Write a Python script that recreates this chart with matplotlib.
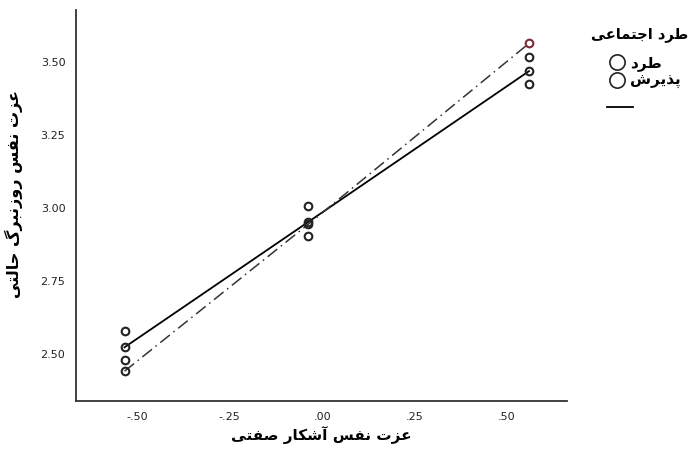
import matplotlib.pyplot as plt
from matplotlib.lines import Line2D
from matplotlib.ticker import FuncFormatter

# Persian labels
x_label = "عزت نفس آشکار صفتی"
y_label = "عزت نفس روزنبرگ حالتی"
legend_title = "طرد اجتماعی"
groups = ["طرد", "پذیرش"]

# x positions of the three points (explicit self-esteem)
x_vals = [-0.535, -0.038, 0.56]

# values on the fitted lines for each group
fit_reject = [2.524, 2.953, 3.470]
fit_accept = [2.442, 2.945, 3.565]
# the other plotted points
extra_reject = [2.579, 3.007, 3.425]
extra_accept = [2.479, 2.905, 3.517]

x_ticks = [-0.50, -0.25, 0.00, 0.25, 0.50]
y_ticks = [2.50, 2.75, 3.00, 3.25, 3.50]

# presentation forms: isolated, final, initial, medial
FORMS = {
    'ا': ('\uFE8D', '\uFE8E'), 'آ': ('\uFE81', '\uFE82'),
    'د': ('\uFEA9', '\uFEAA'), 'ذ': ('\uFEAB', '\uFEAC'),
    'ر': ('\uFEAD', '\uFEAE'), 'ز': ('\uFEAF', '\uFEB0'),
    'و': ('\uFEED', '\uFEEE'),
    'ب': ('\uFE8F', '\uFE90', '\uFE91', '\uFE92'),
    'پ': ('\uFB56', '\uFB57', '\uFB58', '\uFB59'),
    'ت': ('\uFE95', '\uFE96', '\uFE97', '\uFE98'),
    'ج': ('\uFE9D', '\uFE9E', '\uFE9F', '\uFEA0'),
    'ح': ('\uFEA1', '\uFEA2', '\uFEA3', '\uFEA4'),
    'س': ('\uFEB1', '\uFEB2', '\uFEB3', '\uFEB4'),
    'ش': ('\uFEB5', '\uFEB6', '\uFEB7', '\uFEB8'),
    'ص': ('\uFEB9', '\uFEBA', '\uFEBB', '\uFEBC'),
    'ط': ('\uFEC1', '\uFEC2', '\uFEC3', '\uFEC4'),
    'ع': ('\uFEC9', '\uFECA', '\uFECB', '\uFECC'),
    'ف': ('\uFED1', '\uFED2', '\uFED3', '\uFED4'),
    'ک': ('\uFB8E', '\uFB8F', '\uFB90', '\uFB91'),
    'گ': ('\uFB92', '\uFB93', '\uFB94', '\uFB95'),
    'ل': ('\uFEDD', '\uFEDE', '\uFEDF', '\uFEE0'),
    'م': ('\uFEE1', '\uFEE2', '\uFEE3', '\uFEE4'),
    'ن': ('\uFEE5', '\uFEE6', '\uFEE7', '\uFEE8'),
    'ی': ('\uFBFC', '\uFBFD', '\uFBFE', '\uFBFF'),
}


def shape(text):
    # join letters and put them in visual (left-to-right) order
    out = []
    for i, ch in enumerate(text):
        if ch not in FORMS:
            out.append(ch)
            continue
        prev = text[i - 1] if i > 0 else ' '
        nxt = text[i + 1] if i < len(text) - 1 else ' '
        join_prev = prev in FORMS and len(FORMS[prev]) == 4
        join_next = len(FORMS[ch]) == 4 and nxt in FORMS
        f = FORMS[ch]
        if join_prev and join_next:
            out.append(f[3])
        elif join_prev:
            out.append(f[1])
        elif join_next:
            out.append(f[2])
        else:
            out.append(f[0])
    return ''.join(reversed(out))


plt.rcParams['font.family'] = ['DejaVu Sans']

fig = plt.figure(figsize=(6.89, 4.57), dpi=100)
ax = fig.add_axes([0.111, 0.1225, 0.712, 0.856])

ax.plot(x_vals, fit_reject, color='black', lw=1.3)
ax.plot(x_vals, fit_accept, color='#333333', lw=1.1, linestyle=(0, (8, 3, 1, 3)))

mk = dict(linestyle='none', marker='o', markersize=5.5, markerfacecolor='none',
          markeredgewidth=1.5, markeredgecolor='#222222')
ax.plot(x_vals, fit_reject, **mk)
ax.plot(x_vals, extra_reject, **mk)
ax.plot(x_vals[:2], fit_accept[:2], **mk)
ax.plot(x_vals, extra_accept, **mk)
ax.plot(x_vals[2:], fit_accept[2:], linestyle='none', marker='o', markersize=5.5,
        markerfacecolor='none', markeredgewidth=1.5, markeredgecolor='#7a2a35')

ax.set_xlim(-0.665, 0.663)
ax.set_ylim(2.34, 3.68)
ax.set_xticks(x_ticks)
ax.set_yticks(y_ticks)
ax.xaxis.set_major_formatter(FuncFormatter(lambda v, p: f"{v:.2f}".replace("0.", ".", 1)))
ax.yaxis.set_major_formatter(FuncFormatter(lambda v, p: f"{v:.2f}"))
ax.tick_params(length=0, labelsize=8, colors='#222222', pad=8)
for s in ['top', 'right']:
    ax.spines[s].set_visible(False)
for s in ['left', 'bottom']:
    ax.spines[s].set_linewidth(1.3)
    ax.spines[s].set_color('#333333')

ax.set_xlabel(shape(x_label), fontsize=11, fontweight='bold', labelpad=3)
ax.set_ylabel(shape(y_label), fontsize=11.5, fontweight='bold')
ax.yaxis.set_label_coords(-0.108, 0.53)

# legend: title, two circle entries and a line
fig.text(688 / 689, 1 - 34 / 457, shape(legend_title), ha='right', va='center',
         fontsize=10.5, fontweight='bold')
handles = [Line2D([], [], linestyle='none', marker='o', markersize=11,
                  markerfacecolor='none', markeredgecolor='#222222', markeredgewidth=1.2)
           for _ in groups]
leg = fig.legend(handles, [shape(g) for g in groups], loc='upper left',
                 bbox_to_anchor=(0.885, 1 - 55 / 457), frameon=False,
                 handlelength=1.0, handletextpad=0.3, labelspacing=0.15,
                 borderaxespad=0, borderpad=0, prop={'weight': 'bold', 'size': 11})
fig.add_artist(Line2D([607 / 689, 633 / 689], [1 - 107 / 457, 1 - 107 / 457],
                      color='black', lw=1.3, transform=fig.transFigure))

fig.savefig('out.png', dpi=100)
